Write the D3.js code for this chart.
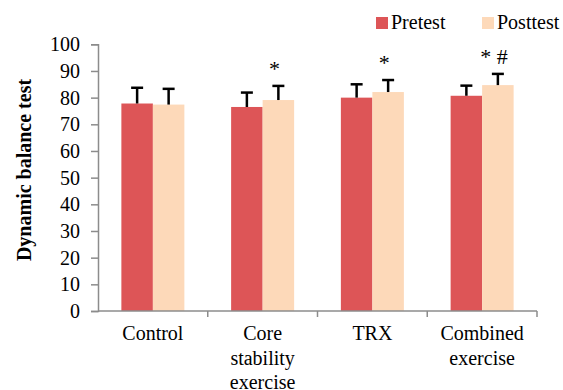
<!DOCTYPE html>
<html>
<head>
<meta charset="utf-8">
<script src="https://cdn.jsdelivr.net/npm/d3@7"></script>
</head>
<body style="margin:0; background:#fff">
<svg width="563" height="390"></svg>
<script>
// Data
const groups = ["Control", "Core stability exercise", "TRX", "Combined exercise"];
const groupLines = [["Control"], ["Core", "stability", "exercise"], ["TRX"], ["Combined", "exercise"]];
const series = ["Pretest", "Posttest"];
const pretest = [77.8, 76.5, 80.0, 80.7];
const posttest = [77.4, 79.1, 82.1, 84.7];
const pretestSD = [5.9, 5.4, 5.0, 3.8];
const posttestSD = [5.9, 5.3, 4.5, 4.2];
const marks = ["", "*", "*", "* #"];
const yTicks = [0, 10, 20, 30, 40, 50, 60, 70, 80, 90, 100];

const colors = { Pretest: "#dd5557", Posttest: "#fdd9b9" };
const font = "Liberation Serif";

const svg = d3.select("svg");

// Scales
const x = d3.scaleBand().domain(groups).range([98, 537]).padding(0);
const xSub = d3.scaleBand().domain(series).range([0, x.bandwidth()])
  .paddingInner(0).paddingOuter(0.742);
const y = d3.scaleLinear().domain([0, 100]).range([311, 44.3]);

const rows = groups.map((g, i) => ({
  group: g,
  values: [
    { key: "Pretest", value: pretest[i], sd: pretestSD[i] },
    { key: "Posttest", value: posttest[i], sd: posttestSD[i] },
  ],
  mark: marks[i],
}));

// Y axis
const yAxis = svg.append("g")
  .attr("transform", `translate(${x.range()[0]},0)`)
  .call(d3.axisLeft(y).tickValues(yTicks).tickSize(7).tickPadding(11));
yAxis.select(".domain").attr("stroke", "#8c8c8c").attr("stroke-width", 1.5);
yAxis.selectAll(".tick line").attr("stroke", "#8c8c8c").attr("stroke-width", 1.5);
yAxis.selectAll(".tick text")
  .attr("fill", "#000")
  .attr("font-family", font)
  .attr("font-size", 20);

// Bars
const g = svg.append("g")
  .selectAll("g")
  .data(rows)
  .join("g")
  .attr("transform", (d) => `translate(${x(d.group)},0)`);

g.selectAll("rect")
  .data((d) => d.values)
  .join("rect")
  .attr("x", (d) => xSub(d.key))
  .attr("y", (d) => y(d.value))
  .attr("width", xSub.bandwidth())
  .attr("height", (d) => y(0) - y(d.value))
  .attr("fill", (d) => colors[d.key]);

// Error bars (upper only)
const err = g.selectAll("g.err")
  .data((d) => d.values)
  .join("g")
  .attr("class", "err")
  .attr("transform", (d) => `translate(${xSub(d.key) + xSub.bandwidth() / 2},0)`);
err.append("line")
  .attr("y1", (d) => y(d.value))
  .attr("y2", (d) => y(d.value + d.sd))
  .attr("stroke", "#000")
  .attr("stroke-width", 2.5);
err.append("line")
  .attr("x1", -6).attr("x2", 6)
  .attr("y1", (d) => y(d.value + d.sd))
  .attr("y2", (d) => y(d.value + d.sd))
  .attr("stroke", "#000")
  .attr("stroke-width", 2.5);

// Significance marks
g.append("text")
  .attr("x", xSub("Posttest") + xSub.bandwidth() / 2 - 4)
  .attr("y", (d) => y(d.values[1].value + d.values[1].sd) - 10)
  .attr("text-anchor", "middle")
  .attr("font-family", font)
  .attr("font-size", 22)
  .text((d) => d.mark);

// X axis
const xAxis = svg.append("g");
xAxis.append("line")
  .attr("x1", x.range()[0]).attr("x2", x.range()[1])
  .attr("y1", y(0)).attr("y2", y(0))
  .attr("stroke", "#8c8c8c").attr("stroke-width", 1.5);
xAxis.selectAll("line.tick")
  .data(groups)
  .join("line")
  .attr("class", "tick")
  .attr("x1", (d) => x(d) + x.bandwidth())
  .attr("x2", (d) => x(d) + x.bandwidth())
  .attr("y1", y(0)).attr("y2", y(0) + 6)
  .attr("stroke", "#8c8c8c").attr("stroke-width", 1.5);

xAxis.selectAll("text")
  .data(groups)
  .join("text")
  .attr("text-anchor", "middle")
  .attr("font-family", font)
  .attr("font-size", 20)
  .attr("x", (d) => x(d) + x.bandwidth() / 2)
  .attr("y", 340)
  .selectAll("tspan")
  .data((d, i) => groupLines[i])
  .join("tspan")
  .attr("x", function () { return d3.select(this.parentNode).attr("x"); })
  .attr("dy", (d, i) => (i === 0 ? 0 : 24.5))
  .text((d) => d);

// Y axis title
svg.append("text")
  .attr("transform", "translate(31,170) rotate(-90)")
  .attr("text-anchor", "middle")
  .attr("font-family", font)
  .attr("font-size", 20)
  .attr("font-weight", "bold")
  .text("Dynamic balance test");

// Legend
const legend = svg.append("g")
  .selectAll("g")
  .data(series)
  .join("g")
  .attr("transform", (d, i) => `translate(${376 + i * 106},17)`);
legend.append("rect")
  .attr("width", 12).attr("height", 12)
  .attr("fill", (d) => colors[d]);
legend.append("text")
  .attr("x", 15).attr("y", 12)
  .attr("font-family", font)
  .attr("font-size", 20)
  .text((d) => d);
</script>
</body>
</html>
